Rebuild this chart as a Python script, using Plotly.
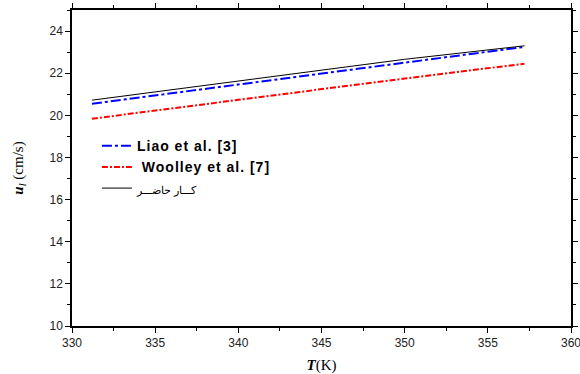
import plotly.graph_objects as go

T_vals = [331.2, 340.0, 350.0, 357.2]
liao = [20.55, 21.45, 22.50, 23.25]
woolley = [19.84, 20.75, 21.75, 22.45]
present = [20.72, 21.62, 22.66, 23.30]

names = ["<b><span style='letter-spacing:1px'>Liao et al. [3]</span></b>",
         "<b><span style='letter-spacing:1px'> Woolley et al. [7]</span></b>",
         "<span style='font-family:Noto Sans;font-size:11px'>کـــار حاضـــر</span>"]

fig = go.Figure()
fig.add_trace(go.Scatter(x=T_vals, y=liao, mode="lines", name=names[0],
                         line=dict(color="#0000ff", width=2, dash="10px,3px,3px,3px")))
fig.add_trace(go.Scatter(x=T_vals, y=woolley, mode="lines", name=names[1],
                         line=dict(color="#ff0000", width=2, dash="6px,2px,2px,2px")))
fig.add_trace(go.Scatter(x=T_vals, y=present, mode="lines", name=names[2],
                         line=dict(color="#000000", width=1)))

axis_common = dict(showline=True, linecolor="black", linewidth=1.5, mirror="allticks",
                   ticks="outside", ticklen=5, tickwidth=1, tickcolor="black",
                   showgrid=False, zeroline=False, automargin=False,
                   ticklabeloverflow="allow",
                   tickfont=dict(family="Liberation Sans, Arial", size=12, color="#222"))

fig.update_layout(
    width=580, height=374,
    margin=dict(l=72, r=9, t=10, b=48),
    paper_bgcolor="white", plot_bgcolor="white",
    showlegend=True,
    legend=dict(x=0.05, y=0.62, xanchor="left", yanchor="top",
                bgcolor="rgba(0,0,0,0)", tracegroupgap=0,
                font=dict(family="Liberation Sans, Arial", size=14, color="black")),
    xaxis=dict(range=[330, 360], tickvals=[330, 335, 340, 345, 350, 355, 360],
               minor=dict(dtick=2.5, ticks="outside", ticklen=3, tickcolor="black"),
               title=dict(text="<b><i>T</i></b>(K)", standoff=10,
                          font=dict(family="Liberation Serif, Times New Roman", size=15, color="black")),
               **axis_common),
    yaxis=dict(range=[10, 25], tickvals=[10, 12, 14, 16, 18, 20, 22, 24],
               minor=dict(dtick=1, ticks="outside", ticklen=3, tickcolor="black"),
               title=dict(text="<b><i>u</i></b><sub><i>l</i></sub> (cm/s)", standoff=22,
                          font=dict(family="Liberation Serif, Times New Roman", size=15, color="black")),
               **axis_common),
)

fig.write_html("out.html")
